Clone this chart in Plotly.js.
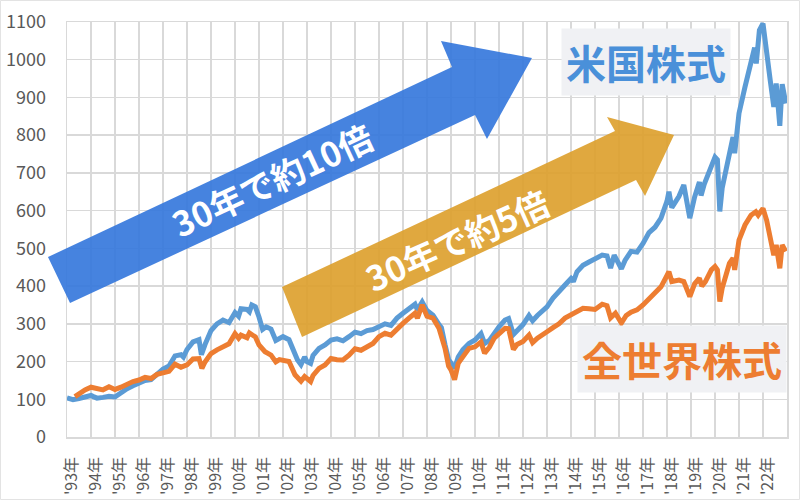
<!DOCTYPE html>
<html>
<head>
<meta charset="utf-8">
<script src="https://cdn.plot.ly/plotly-3.0.1.min.js"></script>
<style>html,body{margin:0;padding:0;background:#fff}#chart{width:800px;height:500px}</style>
</head>
<body>
<div id="chart"></div>
<script>
// ---- data ----
const tickYears = [1993,1994,1995,1996,1997,1998,1999,2000,2001,2002,2003,2004,2005,2006,2007,2008,2009,2010,2011,2012,2013,2014,2015,2016,2017,2018,2019,2020,2021,2022];
const tickLabels = ["'93年","'94年","'95年","'96年","'97年","'98年","'99年","'00年","'01年","'02年","'03年","'04年","'05年","'06年","'07年","'08年","'09年","'10年","'11年","'12年","'13年","'14年","'15年","'16年","'17年","'18年","'19年","'20年","'21年","'22年"];
const yTicks = [0,100,200,300,400,500,600,700,800,900,1000,1100];

const usName = "米国株式";
const usX = [1993.0,1993.1,1993.25,1993.5,1993.75,1994.0,1994.1,1994.25,1994.5,1994.75,1995.0,1995.25,1995.5,1995.75,1996.0,1996.25,1996.5,1996.75,1997.0,1997.25,1997.5,1997.75,1997.85,1998.0,1998.25,1998.5,1998.6,1998.75,1999.0,1999.25,1999.5,1999.75,2000.0,2000.15,2000.25,2000.5,2000.6,2000.7,2000.85,2001.0,2001.15,2001.3,2001.5,2001.7,2001.85,2002.0,2002.25,2002.5,2002.6,2002.75,2002.9,2003.0,2003.15,2003.25,2003.5,2003.75,2004.0,2004.25,2004.5,2004.75,2005.0,2005.25,2005.5,2005.75,2006.0,2006.25,2006.5,2006.75,2007.0,2007.25,2007.5,2007.6,2007.8,2008.0,2008.25,2008.5,2008.6,2008.75,2008.9,2009.0,2009.15,2009.3,2009.5,2009.75,2010.0,2010.25,2010.4,2010.6,2010.8,2011.0,2011.25,2011.4,2011.6,2011.75,2012.0,2012.25,2012.4,2012.6,2012.75,2013.0,2013.25,2013.5,2013.75,2014.0,2014.1,2014.25,2014.5,2014.75,2015.0,2015.3,2015.5,2015.65,2015.8,2016.0,2016.1,2016.25,2016.5,2016.75,2017.0,2017.25,2017.5,2017.75,2018.0,2018.08,2018.2,2018.5,2018.7,2018.95,2019.15,2019.35,2019.42,2019.55,2019.75,2020.0,2020.1,2020.2,2020.3,2020.4,2020.6,2020.75,2020.82,2021.0,2021.25,2021.5,2021.65,2021.72,2021.85,2022.0,2022.1,2022.2,2022.3,2022.45,2022.55,2022.7,2022.8,2022.95];
const usVal = [104,102,99,102,106,110,107,103,105,108,106,118,128,136,143,150,152,166,180,188,215,218,212,232,252,258,218,245,282,300,310,303,330,320,340,338,332,350,345,318,285,292,286,256,262,266,258,218,205,192,212,200,195,216,235,244,257,260,255,266,278,274,282,285,292,300,296,315,328,340,352,337,358,335,323,298,290,245,205,196,182,212,232,248,257,274,248,256,275,292,310,314,272,282,298,322,308,322,332,345,368,388,403,420,412,438,455,464,472,482,480,448,482,456,446,468,492,490,513,542,556,580,625,650,608,638,668,580,636,676,640,670,700,742,735,598,660,690,760,795,752,858,928,990,1032,990,1078,1096,1040,1005,946,875,937,825,935,884];

const worldName = "全世界株式";
const worldX = [1993.33,1993.5,1993.75,1994.0,1994.25,1994.5,1994.75,1995.0,1995.25,1995.5,1995.75,1996.0,1996.25,1996.5,1996.75,1997.0,1997.25,1997.5,1997.75,1998.0,1998.25,1998.5,1998.62,1998.75,1999.0,1999.25,1999.5,1999.75,2000.0,2000.15,2000.25,2000.5,2000.6,2000.85,2001.0,2001.25,2001.5,2001.7,2001.85,2002.0,2002.25,2002.5,2002.75,2002.9,2003.0,2003.15,2003.25,2003.5,2003.75,2004.0,2004.25,2004.5,2004.75,2005.0,2005.25,2005.5,2005.75,2006.0,2006.25,2006.5,2006.75,2007.0,2007.25,2007.5,2007.6,2007.8,2008.0,2008.25,2008.5,2008.75,2008.9,2009.0,2009.15,2009.3,2009.5,2009.75,2010.0,2010.25,2010.4,2010.6,2010.8,2011.0,2011.25,2011.4,2011.6,2011.75,2012.0,2012.25,2012.4,2012.6,2012.75,2013.0,2013.25,2013.5,2013.75,2014.0,2014.25,2014.5,2014.75,2015.0,2015.3,2015.5,2015.65,2015.85,2016.1,2016.3,2016.5,2016.75,2017.0,2017.25,2017.5,2017.75,2018.0,2018.08,2018.2,2018.5,2018.7,2018.95,2019.15,2019.35,2019.45,2019.6,2019.85,2020.0,2020.1,2020.2,2020.3,2020.4,2020.6,2020.75,2020.82,2021.0,2021.25,2021.5,2021.7,2021.8,2022.0,2022.15,2022.3,2022.45,2022.55,2022.7,2022.8,2022.95];
const worldVal = [107,115,125,132,127,125,133,126,132,141,147,151,158,155,166,170,174,193,185,191,207,208,182,199,221,231,238,247,274,262,270,263,276,265,244,226,217,199,205,204,200,165,148,160,156,147,163,182,191,208,205,204,217,234,230,239,248,266,275,270,288,301,315,328,315,350,320,315,288,235,188,178,152,195,213,235,239,252,222,238,262,275,288,287,232,245,253,270,250,262,270,279,290,300,315,323,332,341,340,338,352,348,316,328,302,322,331,337,350,367,381,398,428,438,412,416,412,372,406,421,400,412,443,452,443,359,395,418,460,474,443,522,562,588,597,588,606,575,531,482,509,447,509,492];

const arrowTexts = ["30年で約10倍", "30年で約5倍"];

// ---- layout helpers (pixel -> paper) ----
const L = 67, T = 22, W = 720, H = 415;
const px = x => ((x - L) / W).toFixed(4);
const py = y => ((T + H - y) / H).toFixed(4);
const poly = pts => 'M ' + pts.map(p => px(p[0]) + ' ' + py(p[1])).join(' L ') + ' Z';

const blueArrow = [[48,257],[452,67],[441,41],[532,58],[487,139],[475,115],[70,303]];
const goldArrow = [[282,287],[615,131],[607,117],[674,135],[645,196],[636,180],[302,337]];

const font = "'Noto Sans CJK JP', 'Noto Sans', sans-serif";

const traces = [
  {x: usX, y: usVal, name: usName, type: 'scatter', mode: 'lines',
   line: {color: '#5B9BD5', width: 5, shape: 'linear'}},
  {x: worldX, y: worldVal, name: worldName, type: 'scatter', mode: 'lines',
   line: {color: '#ED7D31', width: 5, shape: 'linear'}}
];

const layout = {
  width: 800, height: 500,
  margin: {l: L, r: 800 - L - W, t: T, b: 500 - T - H},
  paper_bgcolor: '#ffffff', plot_bgcolor: '#ffffff',
  showlegend: false,
  font: {family: font, color: '#595959'},
  xaxis: {
    range: [1993, 2023], tickmode: 'array', tickvals: tickYears, ticktext: tickLabels,
    tickangle: -90, tickfont: {size: 16, color: '#595959', family: font},
    showgrid: true, gridcolor: '#d9d9d9', gridwidth: 1.5,
    showline: true, linecolor: '#d9d9d9', linewidth: 1.5, mirror: true,
    zeroline: false, ticks: '', ticklabelstandoff: 12, ticklabelshift: 5, fixedrange: true
  },
  yaxis: {
    range: [0, 1100], tickmode: 'array', tickvals: yTicks,
    tickfont: {size: 18, color: '#595959', family: font},
    showgrid: true, gridcolor: '#d9d9d9', gridwidth: 1.5,
    showline: true, linecolor: '#d9d9d9', linewidth: 1.5, mirror: true,
    zeroline: false, ticks: '', ticklabelstandoff: 16, fixedrange: true
  },
  shapes: [
    {type: 'path', xref: 'paper', yref: 'paper', path: poly(blueArrow),
     fillcolor: 'rgba(50,118,220,0.9)', line: {width: 0}, layer: 'above'},
    {type: 'path', xref: 'paper', yref: 'paper', path: poly(goldArrow),
     fillcolor: 'rgba(221,158,42,0.9)', line: {width: 0}, layer: 'above'},
    {type: 'rect', xref: 'paper', yref: 'paper',
     x0: px(0.5), x1: px(799.5), y0: py(499.5), y1: py(0.5),
     line: {color: '#e3e3e3', width: 1}, fillcolor: 'rgba(0,0,0,0)', layer: 'below'}
  ],
  annotations: [
    {xref: 'paper', yref: 'paper', x: px(272), y: py(180), text: '<b>' + arrowTexts[0] + '</b>',
     showarrow: false, textangle: -25, xanchor: 'center', yanchor: 'middle',
     font: {family: font, size: 34, color: '#ffffff'}},
    {xref: 'paper', yref: 'paper', x: px(457), y: py(240), text: '<b>' + arrowTexts[1] + '</b>',
     showarrow: false, textangle: -24, xanchor: 'center', yanchor: 'middle',
     font: {family: font, size: 34, color: '#ffffff'}},
    {xref: 'paper', yref: 'paper', x: px(646), y: py(62), text: '<b>' + usName + '</b>',
     showarrow: false, xanchor: 'center', yanchor: 'middle', bgcolor: '#f0f1f4', borderpad: 4,
     font: {family: font, size: 40, color: '#4A90D9'}},
    {xref: 'paper', yref: 'paper', x: px(682), y: py(359), text: '<b>' + worldName + '</b>',
     showarrow: false, xanchor: 'center', yanchor: 'middle', bgcolor: '#f0f1f4', borderpad: 4,
     font: {family: font, size: 40, color: '#ED7D31'}}
  ]
};

Plotly.newPlot('chart', traces, layout, {displayModeBar: false, staticPlot: true});
</script>
</body>
</html>
